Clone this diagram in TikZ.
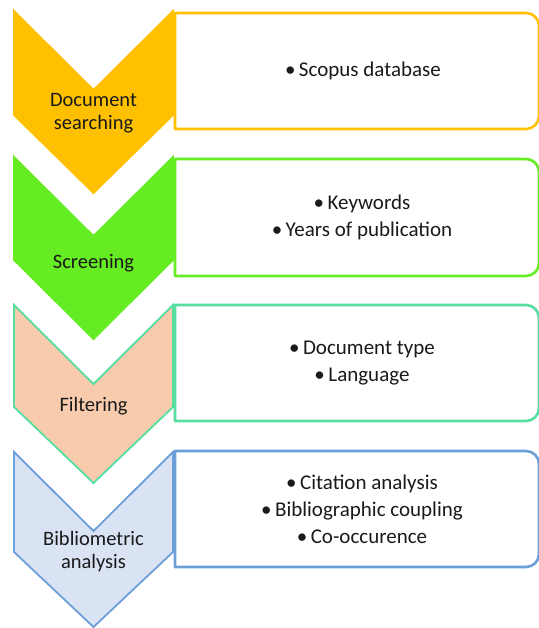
\documentclass[tikz,border=0pt]{standalone}
\usepackage{fontspec}
\setmainfont{Carlito}
\begin{document}
\definecolor{stepamber}{HTML}{FFC000}
\definecolor{stepgreen}{HTML}{66EC22}
\definecolor{steppeach}{HTML}{F8CBAD}
\definecolor{stepteal}{HTML}{55DEA0}
\definecolor{stepsky}{HTML}{DAE3F3}
\definecolor{stepblue}{HTML}{6C9FD8}
\definecolor{inktext}{HTML}{1A1A1A}
\begin{tikzpicture}[x=1pt,y=1pt,
  chevlabel/.style={font=\fontsize{20.5}{23}\selectfont, text=inktext, align=center, inner sep=0pt},
  boxtext/.style={font=\fontsize{21}{27}\selectfont, text=inktext, align=center, inner sep=0pt},
  boxline/.style={line width=2.6pt, fill=white, line join=round},
  chevline/.style={line width=1.8pt, line join=miter}]
\useasboundingbox (0,0) rectangle (538,628);
% chevron: #1 name, #2 top (from page top), #3 side height, #4 total height, #5 fill, #6 outline
\newcommand\chevron[6]{%
  \pgfmathsetmacro\ct{628-#2}%
  \coordinate (#1-tl) at (14,\ct);
  \coordinate (#1-notch) at (93.5,\ct-79);
  \coordinate (#1-tr) at (173,\ct);
  \coordinate (#1-sr) at (173,\ct-#3);
  \coordinate (#1-tip) at (93.5,\ct-#4);
  \coordinate (#1-sl) at (14,\ct-#3);
  \filldraw[chevline, fill=#5, draw=#6] (#1-tl) -- (#1-notch) -- (#1-tr) -- (#1-sr) -- (#1-tip) -- (#1-sl) -- cycle;
}
% detail box, square on the left and rounded on the right: #1 name, #2 top, #3 bottom, #4 colour
\newcommand\detailbox[4]{%
  \pgfmathsetmacro\bt{628-#2}%
  \pgfmathsetmacro\bb{628-#3}%
  \coordinate (#1-nw) at (175,\bt);
  \coordinate (#1-sw) at (175,\bb);
  \draw[boxline, draw=#4] (#1-sw) -- (#1-nw) -- (526,\bt)
    arc[start angle=90, end angle=0, radius=13] -- (539,\bb+13)
    arc[start angle=0, end angle=-90, radius=13] -- cycle;
}
\chevron{c1}{11}{104}{182}{stepamber}{stepamber}
\chevron{c2}{157}{103}{182}{stepgreen}{stepgreen}
\chevron{c3}{305}{102}{178}{steppeach}{stepteal}
\chevron{c4}{452}{100}{175}{stepsky}{stepblue}

\node[chevlabel] (l1) at (93.5,628-113.5) {Document\\searching};
\node[chevlabel] (l2) at (93.5,628-263) {Screening};
\node[chevlabel] (l3) at (93.5,628-406) {Filtering};
\node[chevlabel] (l4) at (93.5,628-551.5) {Bibliometric\\analysis};

\detailbox{b1}{13}{129}{stepamber}
\detailbox{b2}{159}{276}{stepgreen}
\detailbox{b3}{305}{421}{stepteal}
\detailbox{b4}{451}{567}{stepblue}

\node[boxtext] (t1) at (363,628-71) {•\,Scopus database};
\node[boxtext] (t2) at (362,628-217) {•\,Keywords\\•\,Years of publication};
\node[boxtext] (t3) at (362,628-363.5) {•\,Document type\\•\,Language};
\node[boxtext] (t4) at (362,628-509.5) {•\,Citation analysis\\•\,Bibliographic coupling\\•\,Co-occurence};
\end{tikzpicture}
\end{document}
